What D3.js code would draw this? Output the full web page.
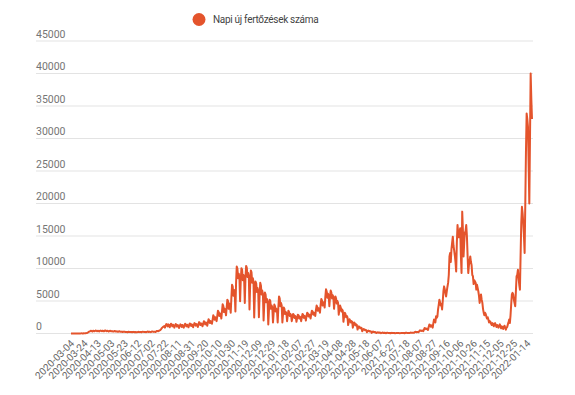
<!DOCTYPE html>
<html>
<head>
<meta charset="utf-8">
<script src="https://cdn.jsdelivr.net/npm/d3@7"></script>
<style>
body { margin: 0; background: #fff; }
svg { font-family: Roboto, Arial, sans-serif; }
</style>
</head>
<body>
<script>
var seriesName = "Napi új fertőzések száma";

// every 20th day gets a label (text copied as it is on the chart)
var tickLabels = ["2020-03-04","2020-03-24","2020-04-13","2020-05-03","2020-05-23","2020-06-12",
  "2020-07-02","2020-07-22","2020-08-11","2020-08-31","2020-09-20","2020-10-10","2020-10-30",
  "2020-11-19","2020-12-09","2020-12-29","2021-01-18","2021-02-07","2021-02-27","2021-03-19",
  "2021-04-08","2021-04-28","2021-05-18","2021-06-07","2021-6-27","2021-07-18","2021-08-07",
  "2021-08-27","2021-09-16","2021-10-06","2021-10-26","2021-11-15","2021-12-05","2021-12-25",
  "2022-01-14"];

var yTicks = [0, 5000, 10000, 15000, 20000, 25000, 30000, 35000, 40000, 45000];

// daily new cases, one week per row
var dailyCases = [
  2, 0, 1, 4, 2, 3, 7,
  6, 3, 4, 4, 9, 13, 5,
  11, 19, 27, 17, 14, 36, 20,
  32, 44, 60, 90, 150, 220, 280,
  330, 380, 420, 360, 300, 420, 390,
  340, 410, 460, 400, 350, 430, 380,
  320, 390, 450, 410, 360, 440, 400,
  330, 400, 470, 420, 350, 410, 380,
  300, 360, 420, 380, 330, 370, 340,
  290, 340, 390, 350, 300, 330, 310,
  260, 300, 340, 300, 270, 290, 270,
  230, 260, 290, 260, 230, 250, 240,
  200, 230, 260, 240, 210, 230, 220,
  190, 220, 250, 230, 200, 220, 210,
  180, 220, 260, 240, 210, 230, 220,
  190, 240, 280, 250, 220, 250, 240,
  200, 250, 300, 270, 230, 260, 250,
  210, 270, 320, 290, 250, 280, 270,
  240, 320, 400, 380, 340, 420, 460,
  520, 640, 780, 900, 1000, 1080, 1150,
  900, 1200, 1450, 1350, 1100, 1400, 1300,
  950, 1250, 1500, 1400, 1100, 1350, 1250,
  900, 1200, 1450, 1350, 1050, 1300, 1200,
  850, 1150, 1400, 1300, 1000, 1300, 1200,
  900, 1200, 1500, 1400, 1100, 1350, 1250,
  950, 1250, 1550, 1450, 1150, 1400, 1300,
  950, 1300, 1600, 1500, 1200, 1450, 1350,
  1000, 1400, 1750, 1600, 1300, 1550, 1450,
  1100, 1500, 1900, 1750, 1400, 1700, 1600,
  1200, 1700, 2200, 2000, 1600, 1900, 1800,
  1500, 2100, 2800, 2600, 2100, 2500, 2300,
  1900, 2700, 3500, 3300, 2700, 3100, 2900,
  2300, 3400, 4500, 4200, 3300, 3800, 3500,
  2800, 4000, 5200, 5000, 3800, 4600, 4300,
  3200, 5500, 7500, 7200, 5800, 6700, 6200,
  3400, 7800, 10300, 10000, 8500, 9200, 8600,
  4950, 8300, 10050, 9800, 8200, 9000, 8400,
  4700, 8600, 10400, 10100, 8700, 9300, 8800,
  3700, 7500, 9700, 9400, 7800, 8500, 7900,
  2450, 6000, 8000, 7700, 6400, 7000, 6500,
  2500, 5700, 7800, 7400, 6000, 6600, 6100,
  2000, 4500, 6300, 6000, 4800, 5300, 4900,
  1400, 3600, 5200, 5000, 3800, 4300, 4000,
  1700, 3200, 4450, 4200, 3400, 3800, 3500,
  1700, 4000, 5700, 5400, 4200, 4700, 4300,
  1700, 3000, 4000, 3800, 3000, 3300, 3100,
  1900, 2800, 3500, 3300, 2700, 3000, 2800,
  1900, 2500, 3000, 2900, 2400, 2700, 2500,
  1800, 2400, 2900, 2800, 2300, 2600, 2500,
  1900, 2500, 3000, 2900, 2400, 2700, 2600,
  2000, 2700, 3200, 3100, 2600, 2900, 2800,
  2300, 3000, 3500, 3400, 2900, 3200, 3100,
  2700, 3600, 4300, 4100, 3500, 3900, 3700,
  3200, 4400, 5300, 5100, 4300, 4800, 4600,
  4000, 5600, 6800, 6500, 5500, 6100, 5800,
  4200, 5700, 6600, 6300, 5400, 5900, 5600,
  3800, 5000, 5700, 5400, 4600, 5000, 4700,
  2900, 3700, 4300, 4000, 3400, 3700, 3500,
  1800, 2600, 3200, 3000, 2500, 2700, 2500,
  1300, 1800, 2200, 2000, 1700, 1900, 1800,
  900, 1350, 1700, 1550, 1250, 1400, 1300,
  600, 900, 1100, 1000, 800, 900, 850,
  350, 550, 700, 650, 500, 560, 520,
  200, 330, 450, 400, 320, 360, 330,
  100, 200, 300, 260, 200, 230, 210,
  70, 130, 180, 160, 120, 140, 130,
  50, 100, 140, 120, 90, 110, 100,
  40, 80, 110, 100, 70, 90, 80,
  30, 70, 100, 90, 60, 80, 70,
  30, 60, 90, 80, 60, 70, 60,
  30, 60, 90, 80, 60, 70, 70,
  40, 80, 110, 100, 80, 90, 90,
  60, 100, 140, 130, 110, 130, 120,
  100, 180, 260, 240, 200, 240, 230,
  200, 350, 480, 450, 380, 450, 430,
  350, 600, 850, 800, 650, 750, 720,
  550, 1000, 1400, 1300, 1050, 1250, 1200,
  900, 1600, 2150, 2000, 1700, 2650, 2400,
  2600, 3700, 4400, 5200, 4800, 4300, 4500,
  3700, 5000, 6500, 7250, 6800, 6200, 5700,
  6500, 7200, 7780, 9000, 11850, 12380, 11000,
  13000, 14000, 14900, 13500, 12800, 12000, 11000,
  9550, 14000, 16700, 15500, 14800, 15500, 16200,
  12000, 9300, 18750, 16000, 11850, 14000, 15500,
  15800, 16700, 15000, 12000, 9300, 10500, 11200,
  11850, 11000, 10500, 9000, 8800, 7600, 8200,
  8000, 7800, 6750, 7500, 7000, 6500, 5800,
  4700, 5500, 6000, 5200, 4750, 3800, 3200,
  2800, 3180, 3000, 2600, 2300, 2500, 2150,
  1700, 1900, 1800, 1500, 1300, 1600, 1500,
  1100, 1400, 1600, 1300, 1000, 1300, 1200,
  900, 1200, 1400, 1100, 800, 1100, 1000,
  700, 1000, 1200, 900, 600, 900, 1000,
  1400, 1700, 2150, 1600, 2800, 4500, 6000,
  6250, 6000, 5200, 4700, 4200, 6500, 8800,
  9000, 9800, 8500, 7500, 6750, 12000, 17000,
  19500, 18500, 17000, 15000, 12400, 20000, 28000,
  33850, 33000, 31800, 26000, 20000, 30000, 40000,
  36000, 33000
];

var lineColor = "#e4542c";

var width = 575, height = 395;
var plot = {left: 71, right: 532, top: 41, bottom: 333.5},
    gridLeft = 36, gridRight = 533;

var svg = d3.select("body").append("svg")
    .attr("width", width)
    .attr("height", height);

// scales
var xScale = d3.scaleLinear()
    .domain([0, dailyCases.length - 1])
    .range([plot.left, plot.right]);
var yScale = d3.scaleLinear()
    .domain([0, 45000])
    .range([plot.bottom, plot.top]);

// gridlines + y labels (labels sit on top of the line, left side)
var yAxis = svg.append("g").attr("class", "yAxis");
yAxis.selectAll("line")
    .data(yTicks)
    .enter().append("line")
    .attr("x1", gridLeft).attr("x2", gridRight)
    .attr("y1", function(d) { return yScale(d); })
    .attr("y2", function(d) { return yScale(d); })
    .style("stroke", "#e3e3e3")
    .style("stroke-width", 1);
yAxis.selectAll("text")
    .data(yTicks)
    .enter().append("text")
    .attr("x", gridLeft)
    .attr("y", function(d) { return yScale(d) - 3.5; })
    .style("font-size", "10.5px")
    .style("fill", "#757575")
    .text(function(d) { return d; });

// x labels, rotated
var xTicks = tickLabels.map(function(t, i) { return i * 20; });
svg.append("g").attr("class", "xAxis")
    .selectAll("text")
    .data(xTicks)
    .enter().append("text")
    .attr("transform", function(d) {
        return "translate(" + (xScale(d) + 4) + ",344) rotate(-45)";
    })
    .style("text-anchor", "end")
    .style("font-size", "10px")
    .style("fill", "#666")
    .text(function(d, i) { return tickLabels[i]; });

// the line
var line = d3.line()
    .x(function(d, i) { return xScale(i); })
    .y(function(d) { return yScale(d); });

svg.append("path")
    .datum(dailyCases)
    .attr("d", line)
    .style("fill", "none")
    .style("stroke", lineColor)
    .style("stroke-width", 2)
    .style("stroke-linejoin", "round");

// legend
var legend = svg.append("g").attr("id", "legend");
legend.append("circle")
    .attr("cx", 199).attr("cy", 19.5).attr("r", 6.5)
    .style("fill", lineColor);
legend.append("text")
    .attr("x", 213).attr("y", 23)
    .style("font-size", "10px")
    .style("letter-spacing", "-0.3px")
    .style("fill", "#444")
    .text(seriesName);
</script>
</body>
</html>
